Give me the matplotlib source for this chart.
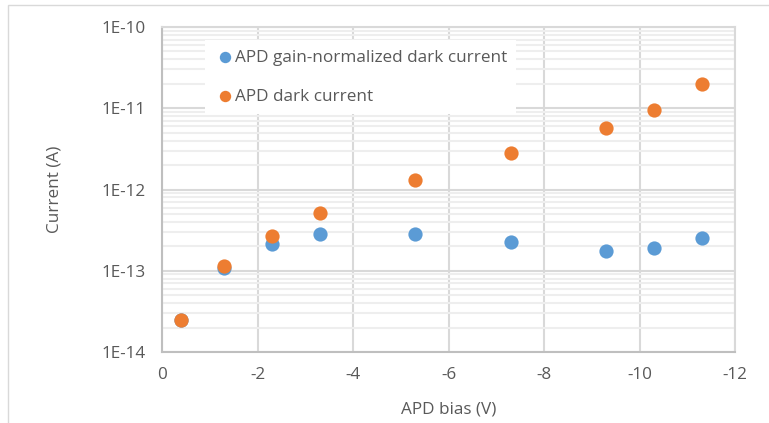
import matplotlib
matplotlib.use("Agg")
import matplotlib.pyplot as plt
from matplotlib.ticker import LogLocator, FixedLocator
from matplotlib.patches import Rectangle

plt.rcParams['font.family'] = ['Open Sans', 'DejaVu Sans']

bias = [-0.4, -1.3, -2.3, -3.3, -5.3, -7.3, -9.3, -10.3, -11.3]
gain_norm_dark = [2.45e-14, 1.09e-13, 2.14e-13, 2.84e-13, 2.86e-13, 2.26e-13, 1.77e-13, 1.89e-13, 2.56e-13]
dark_current = [2.48e-14, 1.15e-13, 2.68e-13, 5.15e-13, 1.31e-12, 2.8e-12, 5.79e-12, 9.55e-12, 2.0e-11]
x_ticks = [0, -2, -4, -6, -8, -10, -12]
y_ticks = [1e-14, 1e-13, 1e-12, 1e-11, 1e-10]
y_tick_labels = ["1E-14", "1E-13", "1E-12", "1E-11", "1E-10"]
series_labels = ["APD gain-normalized dark current", "APD dark current"]

TXT = '#595959'
FS = 12.3
fig = plt.figure(figsize=(7.69, 4.23), dpi=100)
fig.patches.append(Rectangle((8/769, -0.1), 1.2, 1 - 5/423 + 0.1, transform=fig.transFigure,
                             fill=False, edgecolor='#d9d9d9', lw=1.0))
ax = fig.add_axes([162/769, 1 - 352/423, (735 - 162)/769, (352 - 27)/423])
ax.set_yscale('log')
ax.set_xlim(0, -12)
ax.set_ylim(1e-14, 1e-10)
ax.xaxis.set_major_locator(FixedLocator(x_ticks))
ax.set_xticklabels([str(v) for v in x_ticks])
ax.yaxis.set_major_locator(FixedLocator(y_ticks))
ax.set_yticklabels(y_tick_labels)
ax.yaxis.set_minor_locator(LogLocator(base=10, subs=range(2, 10), numticks=20))
ax.yaxis.set_minor_formatter(plt.NullFormatter())

ax.grid(True, which='major', color='#d9d9d9', lw=1.5, zorder=0)
ax.grid(True, which='minor', axis='y', color='#eeeeee', lw=1.5, zorder=0)
ax.set_axisbelow(True)
ax.tick_params(which='both', length=0, colors=TXT, labelsize=FS)
ax.tick_params(axis='x', pad=11)
ax.tick_params(axis='y', pad=12)
for s in ['top', 'right']:
    ax.spines[s].set_color('#d9d9d9')
    ax.spines[s].set_linewidth(1.5)
for s in ['left', 'bottom']:
    ax.spines[s].set_color('#bfbfbf')
    ax.spines[s].set_linewidth(1.5)

ax.scatter(bias, gain_norm_dark, s=105, color='#5B9BD5', label=series_labels[0], zorder=3, linewidths=0)
ax.scatter(bias, dark_current, s=105, color='#ED7D31', label=series_labels[1], zorder=4, linewidths=0)

ax.set_xlabel("APD bias (V)", color=TXT, fontsize=FS, labelpad=13)
ax.set_ylabel("Current (A)", color=TXT, fontsize=FS, labelpad=28)

leg = ax.legend(loc='upper left', bbox_to_anchor=(0.06, 0.985), frameon=True, fancybox=False,
                edgecolor='none', facecolor='white', framealpha=1, fontsize=FS,
                labelcolor=TXT, handletextpad=0.0, labelspacing=1.35, borderpad=0.55,
                markerscale=0.8, handlelength=1.2)
fig.savefig('out.png', dpi=100)
